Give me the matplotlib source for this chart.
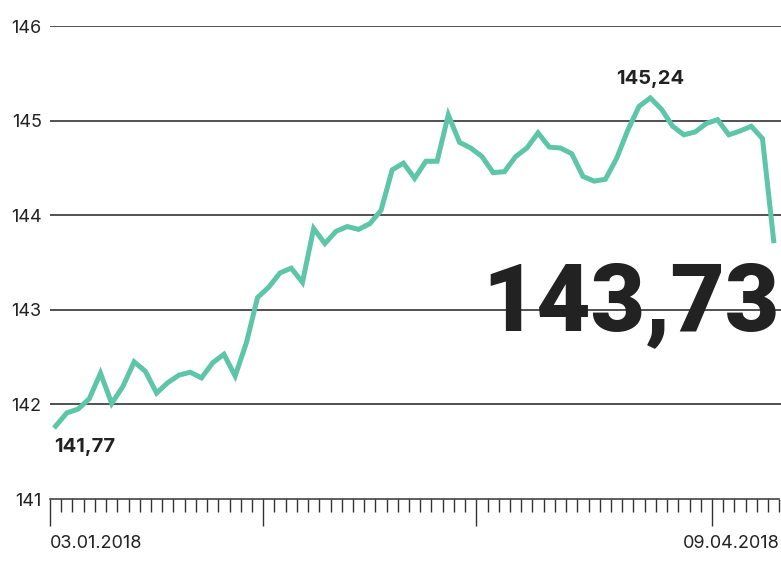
import matplotlib
matplotlib.use('Agg')
import matplotlib.pyplot as plt
from matplotlib.ticker import FixedLocator

plt.rcParams['font.family'] = ['Inter', 'DejaVu Sans']

# index values, one per trading day (03.01.2018 - 09.04.2018)
values = [
    141.77, 141.91, 141.95, 142.06, 142.33, 142.01, 142.19, 142.45, 142.35, 142.12,
    142.23, 142.31, 142.34, 142.28, 142.44, 142.53, 142.30, 142.65, 143.13, 143.24,
    143.39, 143.44, 143.29, 143.86, 143.70, 143.83, 143.88, 143.85, 143.91, 144.05,
    144.48, 144.55, 144.39, 144.57, 144.57, 145.06, 144.77, 144.71, 144.62, 144.45,
    144.46, 144.62, 144.71, 144.87, 144.72, 144.71, 144.65, 144.41, 144.36, 144.38,
    144.60, 144.90, 145.15, 145.24, 145.12, 144.94, 144.85, 144.88, 144.97, 145.01,
    144.85, 144.89, 144.94, 144.81, 143.73,
]
y_ticks = [141, 142, 143, 144, 145, 146]
month_starts = [0, 19, 38, 59]  # band index where a new month begins
first_label = '03.01.2018'
last_label = '09.04.2018'
start_label = '141,77'
max_label = '145,24'
last_value_label = '143,73'

line_color = '#5dc5a8'
ink = '#222222'

W, H = 781, 579
fig = plt.figure(figsize=(W / 100, H / 100), dpi=100)
left, right, top, bottom = 50, 781, 26, 499
ax = fig.add_axes([left / W, 1 - bottom / H, (right - left) / W, (bottom - top) / H])

n = len(values)
band = (779.3 - 50) / n
x_max = -0.5 + (right - left) / band
ax.set_xlim(-0.5, x_max)
ax.set_ylim(141, 146)

x = list(range(n))
ax.plot(x, values, color=line_color, lw=3.6, solid_joinstyle='miter', zorder=3)

for v in y_ticks[1:]:
    ax.axhline(v, color=ink, lw=1.1, zorder=1)

for s in ['top', 'right', 'left']:
    ax.spines[s].set_visible(False)
ax.spines['bottom'].set_bounds(-0.5, n - 0.5)
ax.spines['bottom'].set_color('#333333')
ax.spines['bottom'].set_linewidth(1.1)

edges = [i - 0.5 for i in range(n + 1)]
majors = [edges[i] for i in month_starts]
minors = [e for k, e in enumerate(edges) if k not in month_starts]
ax.xaxis.set_major_locator(FixedLocator(majors))
ax.xaxis.set_minor_locator(FixedLocator(minors))
ax.tick_params(axis='x', which='major', length=19.5, width=1.0, color='#333333', labelbottom=False)
ax.tick_params(axis='x', which='minor', length=9.5, width=1.0, color='#333333')

ax.set_yticks(y_ticks)
ax.set_yticklabels([str(v) for v in y_ticks])
ax.tick_params(axis='y', length=0, pad=6, labelsize=13, labelcolor=ink)

ax.text(-0.5, 140.53, first_label, ha='left', va='center', fontsize=13, color=ink)
ax.text(n - 0.5, 140.53, last_label, ha='right', va='center', fontsize=13, color=ink)

ax.text(-0.1, 141.55, start_label, ha='left', va='center', fontsize=14.5,
        fontweight='bold', color=ink)
imax = values.index(max(values))
ax.text(imax, 145.44, max_label, ha='center', va='center', fontsize=14.5,
        fontweight='bold', color=ink)
ax.text(n - 0.5, 143.06, last_value_label, ha='right', va='center', fontsize=67.5,
        fontweight=900, color=ink, family=['Roboto', 'DejaVu Sans'])

fig.savefig('out.png', dpi=100)
